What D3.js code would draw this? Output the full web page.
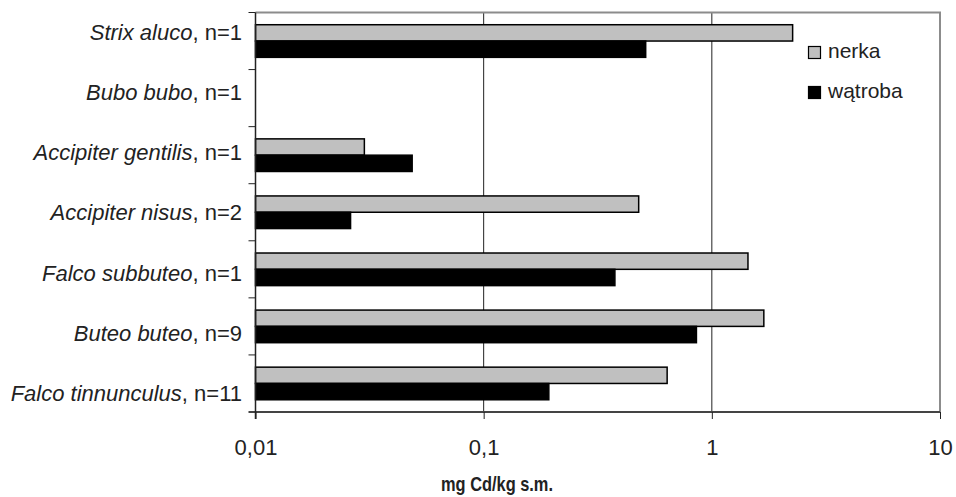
<!DOCTYPE html>
<html>
<head>
<meta charset="utf-8">
<script src="https://cdn.jsdelivr.net/npm/d3@7"></script>
<style>
  body { margin: 0; background: #fff; }
  svg text { font-family: "Liberation Sans", Arial, sans-serif; fill: #222; }
</style>
</head>
<body>
<svg id="chart" width="956" height="497"></svg>
<script>
// species (top to bottom) and sample counts
const species = ["Strix aluco", "Bubo bubo", "Accipiter gentilis", "Accipiter nisus",
  "Falco subbuteo", "Buteo buteo", "Falco tinnunculus"];
const counts = [1, 1, 1, 2, 1, 9, 11];
// mg Cd/kg s.m., null = brak danych
const nerka = [2.26, null, 0.030, 0.478, 1.44, 1.69, 0.637];
const watroba = [0.513, null, 0.0486, 0.0261, 0.376, 0.856, 0.193];
const seriesNames = ["nerka", "wątroba"];
const seriesColors = ["#c0c0c0", "#000000"];
const xTicks = [0.01, 0.1, 1, 10];

const svg = d3.select("#chart");
const margin = { top: 12.5, right: 16, bottom: 85, left: 255.5 };
const width = 956, height = 497;
const plotW = width - margin.left - margin.right;
const plotH = height - margin.top - margin.bottom;

const x = d3.scaleLog()
  .domain([0.01, 10])
  .range([margin.left, margin.left + plotW]);

const y = d3.scaleBand()
  .domain(species)
  .range([margin.top, margin.top + plotH]);

// category labels sit on a slightly wider spacing than the bars
const yLabel = d3.scaleBand()
  .domain(species)
  .range([2.5, 423]);

const inner = d3.scaleBand()
  .domain(seriesNames)
  .range([0, y.bandwidth()])
  .paddingOuter(0.75);

// gridlines
svg.append("g")
  .selectAll("line")
  .data(xTicks.slice(1, -1))
  .enter()
  .append("line")
  .attr("x1", d => x(d)).attr("x2", d => x(d))
  .attr("y1", margin.top).attr("y2", margin.top + plotH)
  .attr("stroke", "#222")
  .attr("stroke-width", 1);

// border top/right
svg.append("path")
  .attr("d", `M${margin.left},${margin.top}H${margin.left + plotW}V${margin.top + plotH}`)
  .attr("fill", "none")
  .attr("stroke", "#8c8c8c")
  .attr("stroke-width", 2);

// bars
const rows = species.map((s, i) => ({ s, vals: [nerka[i], watroba[i]] }));
const groups = svg.append("g").selectAll("g")
  .data(rows)
  .enter()
  .append("g")
  .attr("transform", d => `translate(0,${y(d.s)})`);

groups.selectAll("rect")
  .data(d => d.vals.map((v, j) => ({ v, j })).filter(e => e.v !== null))
  .enter()
  .append("rect")
  .attr("x", x(0.01))
  .attr("y", d => inner(seriesNames[d.j]))
  .attr("width", d => x(d.v) - x(0.01))
  .attr("height", inner.bandwidth())
  .attr("fill", d => seriesColors[d.j])
  .attr("stroke", "#000")
  .attr("stroke-width", 1.5);

// x axis
const xAxis = svg.append("g")
  .attr("transform", `translate(0,${margin.top + plotH})`)
  .call(d3.axisBottom(x).tickValues(xTicks)
    .tickFormat(d => String(d).replace(".", ","))
    .tickSize(7).tickPadding(20));
xAxis.select(".domain").attr("stroke", "#444").attr("stroke-width", 2)
  .attr("d", `M${margin.left - 7},0H${margin.left + plotW}`);
xAxis.selectAll(".tick line").attr("stroke", "#222");
xAxis.selectAll(".tick text").attr("font-size", 22).attr("fill", "#222");

// y axis: ticks at category boundaries
const yAxis = svg.append("g");
yAxis.append("line")
  .attr("x1", margin.left).attr("x2", margin.left)
  .attr("y1", margin.top).attr("y2", margin.top + plotH + 7)
  .attr("stroke", "#222").attr("stroke-width", 1.5);
yAxis.selectAll(".yt")
  .data(species)
  .enter()
  .append("line")
  .attr("x1", margin.left - 7).attr("x2", margin.left)
  .attr("y1", d => y(d)).attr("y2", d => y(d))
  .attr("stroke", "#222");

const labels = yAxis.selectAll(".lab")
  .data(species)
  .enter()
  .append("text")
  .attr("x", 242)
  .attr("y", d => yLabel(d) + yLabel.bandwidth() / 2)
  .attr("dy", "0.35em")
  .attr("text-anchor", "end")
  .attr("font-size", 22);
labels.append("tspan").attr("font-style", "italic").text(d => d);
labels.append("tspan").text((d, i) => ", n=" + counts[i]);

// x axis title (condensed bold)
svg.append("text")
  .attr("transform", "translate(497,491) scale(0.82,1)")
  .attr("text-anchor", "middle")
  .attr("font-size", 20)
  .attr("font-weight", "bold")
  .text("mg Cd/kg s.m.");

// legend
const legend = svg.append("g").attr("transform", "translate(808,46)");
seriesNames.forEach((n, i) => {
  legend.append("rect")
    .attr("x", 0.5).attr("y", i * 40 + 0.5)
    .attr("width", 12).attr("height", 12)
    .attr("fill", seriesColors[i])
    .attr("stroke", "#000").attr("stroke-width", 1.2);
  legend.append("text")
    .attr("x", 20).attr("y", i * 40 + 11.5)
    .attr("font-size", 21)
    .text(n);
});
</script>
</body>
</html>
